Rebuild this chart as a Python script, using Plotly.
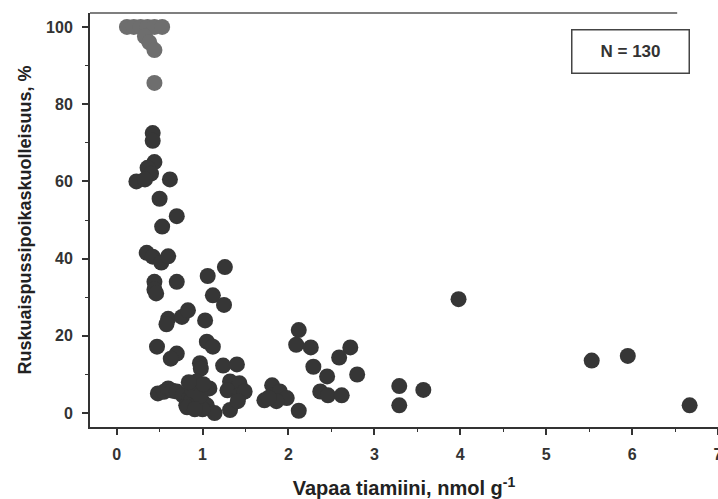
import plotly.graph_objects as go

# Grey points (full mortality cluster)
gx = [0.12, 0.20, 0.28, 0.36, 0.44, 0.53, 0.33, 0.38, 0.44, 0.44]
gy = [100, 100, 100, 100, 100, 100, 97.5, 96, 94, 85.5]

# Dark points
dx = [0.42, 0.42, 0.44, 0.36, 0.40, 0.23, 0.33, 0.62, 0.50, 0.70, 0.53,
      0.35, 0.42, 0.52, 0.60, 1.26, 1.06, 0.44, 0.44, 0.70, 0.46, 1.12, 1.25,
      0.60, 0.76, 0.83, 1.03, 0.58, 0.47, 0.70, 0.63, 1.05, 1.12,
      0.97, 0.98, 1.24, 1.40,
      0.48, 0.55, 0.60, 0.65, 0.70, 0.77, 0.81, 0.85, 0.87, 0.90, 0.93, 0.93,
      0.95, 0.99, 1.05, 1.08, 1.14, 1.32, 1.32, 1.43, 1.29, 1.43, 1.49, 1.41,
      0.88, 0.82, 1.00, 0.97, 0.91, 1.01, 0.84,
      1.81, 1.72, 1.82, 1.90, 1.98, 1.86, 1.77,
      2.12, 2.09, 2.26, 2.72, 2.59, 2.29, 2.80, 2.45, 2.37, 2.46, 2.62, 2.12,
      3.29, 3.29, 3.57, 3.98, 5.53, 5.95, 6.67]
dy = [72.5, 70.5, 65, 63.5, 62, 60, 60.5, 60.5, 55.5, 51, 48.3,
      41.5, 40.5, 39, 40.6, 37.8, 35.5, 34, 32, 34, 31, 30.5, 28,
      24.4, 24.9, 26.6, 24, 23, 17.2, 15.4, 14.1, 18.5, 17.2,
      12.9, 11.5, 12.3, 12.6,
      5.1, 5.5, 6.4, 5.8, 5.6, 4.6, 2, 4, 3.3, 7, 2, 8.2,
      5, 3.3, 2, 6.4, 0, 0.8, 8.2, 7.7, 5.9, 4.6, 5.6, 3.1,
      6, 1.5, 1, 4.5, 1, 7.5, 8,
      7.2, 3.3, 4.6, 5.6, 3.9, 3.1, 4,
      21.5, 17.7, 17, 17, 14.4, 12, 10, 9.5, 5.6, 4.6, 4.6, 0.6,
      7, 2, 6, 29.5, 13.6, 14.8, 2]

xticks = [0, 1, 2, 3, 4, 5, 6, 7]
yticks = [0, 20, 40, 60, 80, 100]

fig = go.Figure()
fig.add_trace(go.Scatter(x=dx, y=dy, mode="markers",
                         marker=dict(size=16, color="#363636", line=dict(width=0)),
                         showlegend=False, cliponaxis=False))
fig.add_trace(go.Scatter(x=gx, y=gy, mode="markers",
                         marker=dict(size=16, color="#6e6e6e", line=dict(width=0)),
                         showlegend=False, cliponaxis=False))

FONT = "Liberation Sans, Arial, sans-serif"
tf = dict(family=FONT, size=16, color="#333333", weight="bold")
fig.update_layout(
    width=718, height=499,
    margin=dict(l=90, r=0, t=13, b=72),
    paper_bgcolor="white", plot_bgcolor="white",
    xaxis=dict(range=[-0.31, 7.0], tickvals=xticks, ticks="outside", ticklen=6,
               tickwidth=1.5, tickcolor="#333", showline=True, linecolor="#333",
               linewidth=2, showgrid=False, zeroline=False, tickfont=tf,
               ticklabelstandoff=6, ticklabeloverflow="allow", automargin=False,
               minor=dict(dtick=0.5, ticks="outside", ticklen=3, tickcolor="#333", tickwidth=1.2),
               title=dict(text="Vapaa tiamiini, nmol g<sup>-1</sup>", standoff=20,
                          font=dict(family=FONT, size=20, color="#222", weight="bold"))),
    yaxis=dict(range=[-3.6, 103.6], tickvals=yticks, ticks="outside", ticklen=6,
               tickwidth=1.5, tickcolor="#333", showline=True, linecolor="#333",
               linewidth=2, showgrid=False, zeroline=False, tickfont=tf,
               ticklabelstandoff=6,
               minor=dict(dtick=10, ticks="outside", ticklen=3, tickcolor="#333", tickwidth=1.2),
               title=dict(text="Ruskuaispussipoikaskuolleisuus, %", standoff=10,
                          font=dict(family=FONT, size=18, color="#222", weight="bold"))),
    shapes=[dict(type="line", xref="paper", yref="paper", x0=0, x1=0.935, y0=1, y1=1,
                 line=dict(color="#555", width=1.5))],
    annotations=[dict(text="N = 130", xref="paper", yref="paper", x=0.86,
                      y=0.908, xanchor="center", yanchor="middle",
                      showarrow=False, bordercolor="#444", borderwidth=1.5,
                      borderpad=2, bgcolor="white", width=112, height=38,
                      font=dict(family=FONT, size=17, color="#333", weight="bold"))]
)
fig.write_html("out.html")
